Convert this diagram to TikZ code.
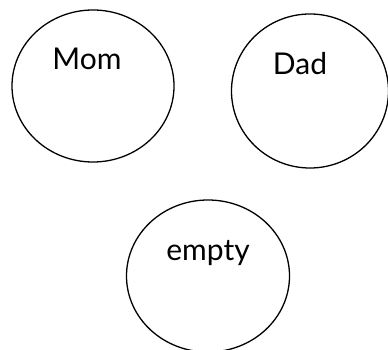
\documentclass[tikz,border=0pt]{standalone}
\usepackage{fontspec}
\setmainfont{Lato}
\usetikzlibrary{shapes.geometric}
\begin{document}
\begin{tikzpicture}[x=1pt,y=-1pt,
  person/.style={draw=black,line width=1.3pt,ellipse,inner sep=0pt},
  lbl/.style={font=\fontsize{30}{36}\selectfont,inner sep=0pt,anchor=base}]
\useasboundingbox (0,0) rectangle (388,350);
\fill[white] (0,0) rectangle (388,350);
\node[person,minimum width=162pt,minimum height=152pt] (mom) at (93,86) {};
\node[person,minimum width=157pt,minimum height=154pt] (dad) at (310,91) {};
\node[person,minimum width=163pt,minimum height=152pt] (empty) at (208,276) {};
\node[lbl] (momtext) at (87,70) {Mom};
\node[lbl] (dadtext) at (300,75) {Dad};
\node[lbl] (emptytext) at (208,260) {empty};
\end{tikzpicture}
\end{document}
